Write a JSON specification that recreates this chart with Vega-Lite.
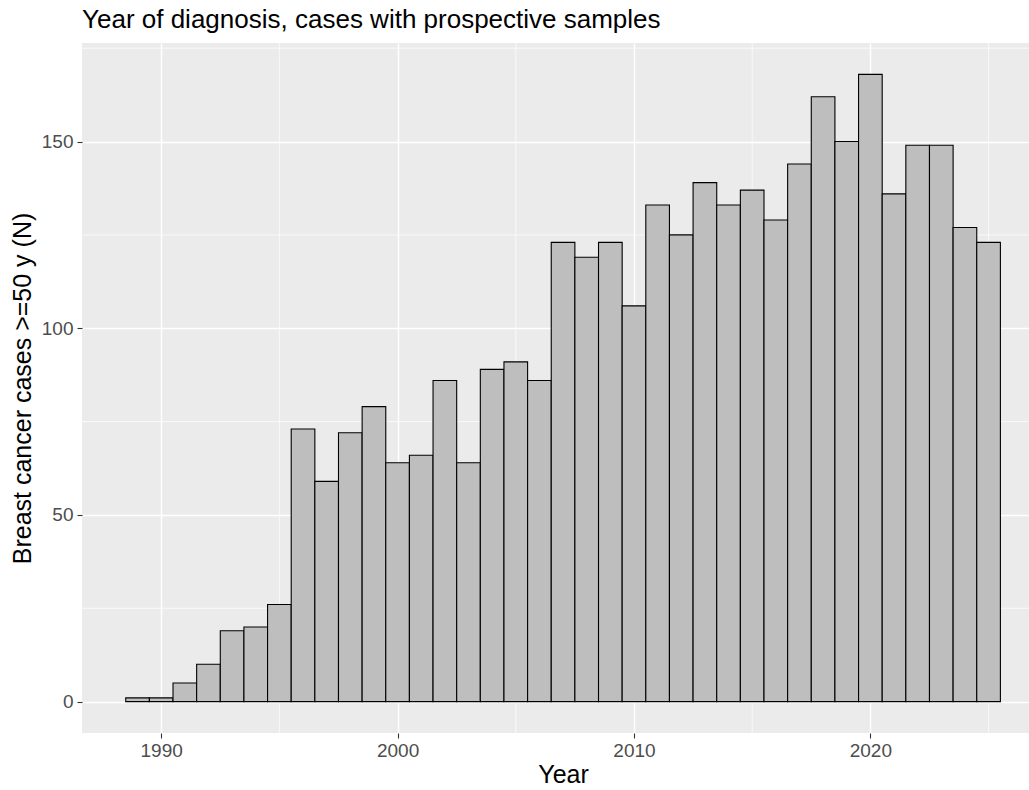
{
  "$schema": "https://vega.github.io/schema/vega-lite/v6.json",
  "autosize": {"type": "none"},
  "padding": {"left": 82, "top": 43, "right": 0, "bottom": 57},
  "width": 947,
  "height": 690,
  "background": "white",
  "title": {"text": "Year of diagnosis, cases with prospective samples", "anchor": "start", "frame": "group", "offset": 10, "font": "Liberation Sans", "fontSize": 26, "fontWeight": "normal", "color": "#000000"},
  "config": {
    "view": {"fill": "#EBEBEB", "stroke": null},
    "axis": {"labelFont": "Liberation Sans", "titleFont": "Liberation Sans", "labelColor": "#4D4D4D", "titleColor": "#000000", "tickColor": "#333333", "tickSize": 5, "tickWidth": 1.1, "domain": false, "gridColor": "#FFFFFF", "gridWidth": 1.4, "labelFontSize": 19, "titleFontSize": 25, "titleFontWeight": "normal"}
  },
  "datasets": {
    "hist": [
      {"bin_start": 1988.5, "bin_end": 1989.5, "count": 1},
      {"bin_start": 1989.5, "bin_end": 1990.5, "count": 1},
      {"bin_start": 1990.5, "bin_end": 1991.5, "count": 5},
      {"bin_start": 1991.5, "bin_end": 1992.5, "count": 10},
      {"bin_start": 1992.5, "bin_end": 1993.5, "count": 19},
      {"bin_start": 1993.5, "bin_end": 1994.5, "count": 20},
      {"bin_start": 1994.5, "bin_end": 1995.5, "count": 26},
      {"bin_start": 1995.5, "bin_end": 1996.5, "count": 73},
      {"bin_start": 1996.5, "bin_end": 1997.5, "count": 59},
      {"bin_start": 1997.5, "bin_end": 1998.5, "count": 72},
      {"bin_start": 1998.5, "bin_end": 1999.5, "count": 79},
      {"bin_start": 1999.5, "bin_end": 2000.5, "count": 64},
      {"bin_start": 2000.5, "bin_end": 2001.5, "count": 66},
      {"bin_start": 2001.5, "bin_end": 2002.5, "count": 86},
      {"bin_start": 2002.5, "bin_end": 2003.5, "count": 64},
      {"bin_start": 2003.5, "bin_end": 2004.5, "count": 89},
      {"bin_start": 2004.5, "bin_end": 2005.5, "count": 91},
      {"bin_start": 2005.5, "bin_end": 2006.5, "count": 86},
      {"bin_start": 2006.5, "bin_end": 2007.5, "count": 123},
      {"bin_start": 2007.5, "bin_end": 2008.5, "count": 119},
      {"bin_start": 2008.5, "bin_end": 2009.5, "count": 123},
      {"bin_start": 2009.5, "bin_end": 2010.5, "count": 106},
      {"bin_start": 2010.5, "bin_end": 2011.5, "count": 133},
      {"bin_start": 2011.5, "bin_end": 2012.5, "count": 125},
      {"bin_start": 2012.5, "bin_end": 2013.5, "count": 139},
      {"bin_start": 2013.5, "bin_end": 2014.5, "count": 133},
      {"bin_start": 2014.5, "bin_end": 2015.5, "count": 137},
      {"bin_start": 2015.5, "bin_end": 2016.5, "count": 129},
      {"bin_start": 2016.5, "bin_end": 2017.5, "count": 144},
      {"bin_start": 2017.5, "bin_end": 2018.5, "count": 162},
      {"bin_start": 2018.5, "bin_end": 2019.5, "count": 150},
      {"bin_start": 2019.5, "bin_end": 2020.5, "count": 168},
      {"bin_start": 2020.5, "bin_end": 2021.5, "count": 136},
      {"bin_start": 2021.5, "bin_end": 2022.5, "count": 149},
      {"bin_start": 2022.5, "bin_end": 2023.5, "count": 149},
      {"bin_start": 2023.5, "bin_end": 2024.5, "count": 127},
      {"bin_start": 2024.5, "bin_end": 2025.5, "count": 123}
    ],
    "minor_x": [{"year": 1995}, {"year": 2005}, {"year": 2015}, {"year": 2025}],
    "minor_y": [{"count": 25}, {"count": 75}, {"count": 125}, {"count": 175}]
  },
  "layer": [
    {
      "data": {"name": "minor_x"},
      "mark": {"type": "rule", "color": "#FFFFFF", "strokeWidth": 0.7},
      "encoding": {
        "x": {"field": "year", "type": "quantitative", "scale": {"domain": [1986.65, 2026.71], "nice": false, "zero": false}}
      }
    },
    {
      "data": {"name": "minor_y"},
      "mark": {"type": "rule", "color": "#FFFFFF", "strokeWidth": 0.7},
      "encoding": {
        "y": {"field": "count", "type": "quantitative", "scale": {"domain": [-8.4, 176.4], "nice": false, "zero": false}}
      }
    },
    {
      "data": {"name": "hist"},
      "mark": {"type": "rect", "fill": "#BEBEBE", "stroke": "#000000", "strokeWidth": 1.1},
      "encoding": {
        "x": {"field": "bin_start", "type": "quantitative", "scale": {"domain": [1986.65, 2026.71], "nice": false, "zero": false},
              "axis": {"values": [1990, 2000, 2010, 2020], "format": "d", "title": "Year", "labelPadding": 3, "titlePadding": 2, "titleX": 481}},
        "x2": {"field": "bin_end"},
        "y": {"field": "count", "type": "quantitative", "scale": {"domain": [-8.4, 176.4], "nice": false, "zero": false},
              "axis": {"values": [0, 50, 100, 150], "format": "d", "title": "Breast cancer cases >=50 y (N)", "labelPadding": 4, "titlePadding": 6}},
        "y2": {"datum": 0}
      }
    }
  ]
}
